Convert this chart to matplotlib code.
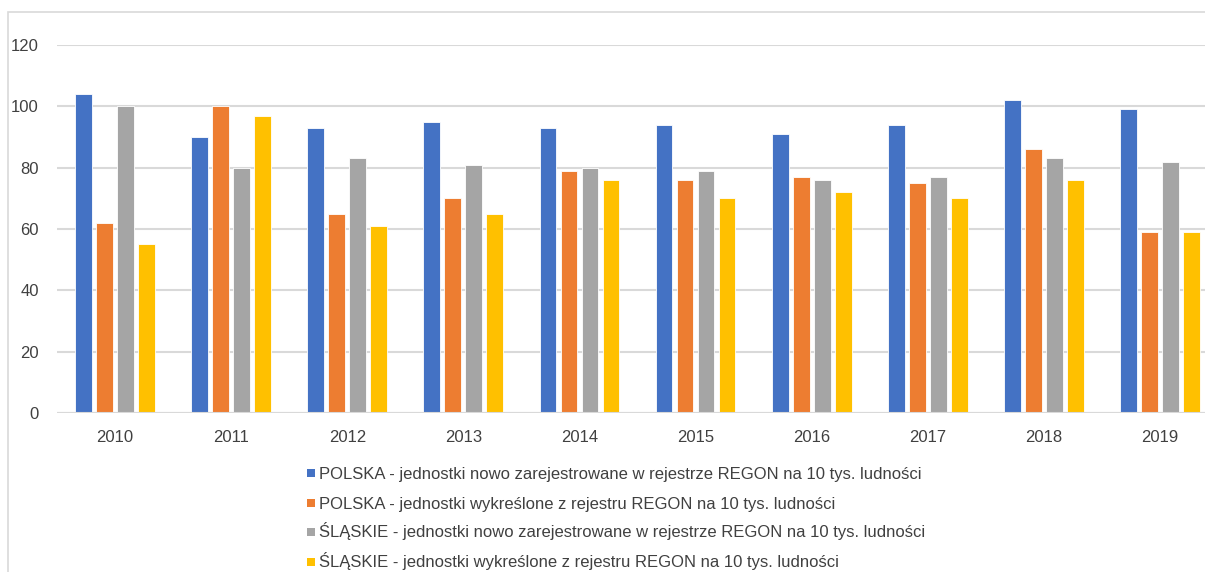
import matplotlib
matplotlib.use("Agg")
import matplotlib.pyplot as plt
import numpy as np
from matplotlib.patches import Rectangle

years = ["2010", "2011", "2012", "2013", "2014", "2015", "2016", "2017", "2018", "2019"]
polska_nowe = [104, 90, 93, 95, 93, 94, 91, 94, 102, 99]
polska_wykr = [62, 100, 65, 70, 79, 76, 77, 75, 86, 59]
slaskie_nowe = [100, 80, 83, 81, 80, 79, 76, 77, 83, 82]
slaskie_wykr = [55, 97, 61, 65, 76, 70, 72, 70, 76, 59]
labels = [
    "POLSKA - jednostki nowo zarejestrowane w rejestrze REGON na 10 tys. ludności",
    "POLSKA - jednostki wykreślone z rejestru REGON na 10 tys. ludności",
    "ŚLĄSKIE - jednostki nowo zarejestrowane w rejestrze REGON na 10 tys. ludności",
    "ŚLĄSKIE - jednostki wykreślone z rejestru REGON na 10 tys. ludności",
]
colors = ["#4472C4", "#ED7D31", "#A5A5A5", "#FFC000"]
series = [polska_nowe, polska_wykr, slaskie_nowe, slaskie_wykr]

plt.rcParams['font.family'] = ['Liberation Sans', 'DejaVu Sans']

W, H = 1205, 572
fig = plt.figure(figsize=(W / 100, H / 100), dpi=100)

# outer chart frame (Excel style)
fig.patches.append(Rectangle((8 / W, -0.1), 1.2, 1 - 12 / H + 0.1, transform=fig.transFigure,
                             fill=False, edgecolor="#D9D9D9", linewidth=1.2))

x0, x1 = 57, 57 + 10 * 116.1
y0, y1 = 413, 45
ax = fig.add_axes([x0 / W, 1 - y0 / H, (x1 - x0) / W, (y0 - y1) / H])

x = np.arange(len(years))
pitch = 0.181
bw = 0.145
for i, (vals, c) in enumerate(zip(series, colors)):
    ax.bar(x + (i - 1.5) * pitch, vals, width=bw, color=c, edgecolor="white",
           linewidth=0.6, zorder=3)

ax.set_xlim(-0.5, len(years) - 0.5)
ax.set_ylim(0, 120)
ax.set_yticks(range(0, 121, 20))
ax.set_xticks(x)
ax.set_xticklabels(years)
ax.grid(axis="y", color="#D9D9D9", linewidth=1.5, zorder=0)
for s in ax.spines.values():
    s.set_visible(False)
ax.tick_params(axis="both", length=0, labelsize=12, labelcolor="#404040")
ax.tick_params(axis="y", pad=13)
ax.tick_params(axis="x", pad=12)
ax.axhline(0, color="#D9D9D9", linewidth=1.5, zorder=4)

# legend drawn row by row at fixed spacing
row_centers = [473, 503, 532, 562]
for lab, c, yc in zip(labels, colors, row_centers):
    fig.patches.append(Rectangle((307 / W, 1 - (yc + 4) / H), 8 / W, 8 / H,
                                 transform=fig.transFigure, facecolor=c, edgecolor="none"))
    fig.text(319 / W, 1 - (yc + 5.5) / H, lab, fontsize=12, color="#404040",
             ha="left", va="baseline")

fig.savefig("out.png", dpi=100)
